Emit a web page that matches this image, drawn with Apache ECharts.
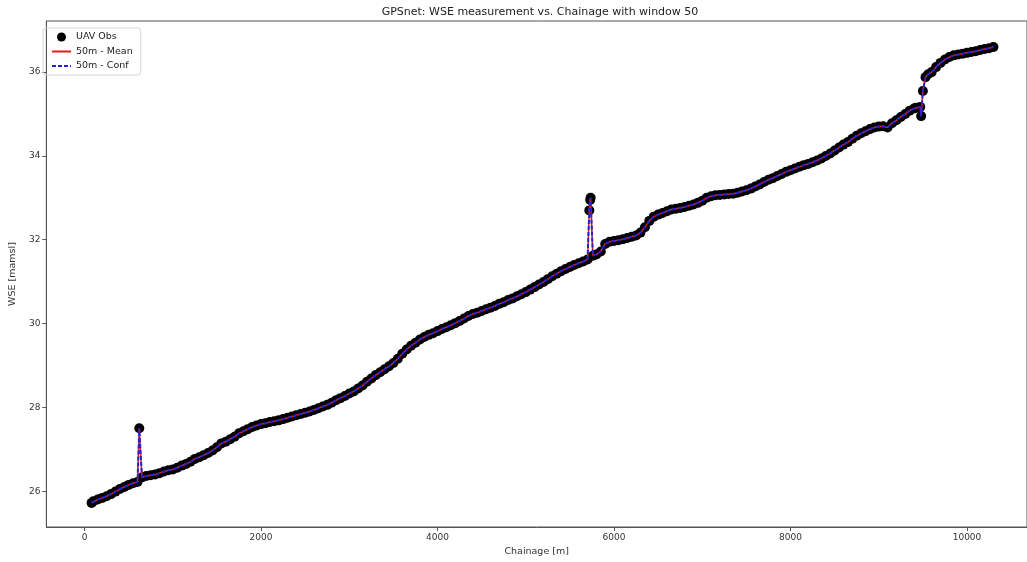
<!DOCTYPE html>
<html>
<head>
<meta charset="utf-8">
<script src="https://cdn.jsdelivr.net/npm/echarts@6/dist/echarts.min.js"></script>
<style>
  html, body { margin: 0; padding: 0; background: #fff; }
  #chart { width: 1027px; height: 562px; }
</style>
</head>
<body>
<div id="chart"></div>
<script>
var myChart = echarts.init(document.getElementById('chart'));

// chainage [m]
var chainage = [80, 100, 150, 200, 250, 300, 350, 400, 450, 500, 550, 600, 620, 650, 700, 750, 800, 850, 900, 950,
	1000, 1050, 1100, 1150, 1200, 1250, 1300, 1350, 1400, 1450, 1500, 1550, 1600, 1650, 1700, 1750, 1800, 1850, 1900, 1950,
	2000, 2050, 2100, 2150, 2200, 2250, 2300, 2350, 2400, 2450, 2500, 2550, 2600, 2650, 2700, 2750, 2800, 2850, 2900, 2950,
	3000, 3050, 3100, 3150, 3200, 3250, 3300, 3350, 3400, 3450, 3500, 3550, 3600, 3650, 3700, 3750, 3800, 3850, 3900, 3950,
	4000, 4050, 4100, 4150, 4200, 4250, 4300, 4350, 4400, 4450, 4500, 4550, 4600, 4650, 4700, 4750, 4800, 4850, 4900, 4950,
	5000, 5050, 5100, 5150, 5200, 5250, 5300, 5350, 5400, 5450, 5500, 5550, 5600, 5650, 5700, 5720, 5730, 5735, 5760, 5800,
	5850, 5900, 5950, 6000, 6050, 6100, 6150, 6200, 6250, 6300, 6350, 6400, 6450, 6500, 6550, 6600, 6650, 6700, 6750, 6800,
	6850, 6900, 6950, 7000, 7050, 7100, 7150, 7200, 7250, 7300, 7350, 7400, 7450, 7500, 7550, 7600, 7650, 7700, 7750, 7800,
	7850, 7900, 7950, 8000, 8050, 8100, 8150, 8200, 8250, 8300, 8350, 8400, 8450, 8500, 8550, 8600, 8650, 8700, 8750, 8800,
	8850, 8900, 8950, 9000, 9050, 9100, 9150, 9200, 9250, 9300, 9350, 9400, 9420, 9470, 9480, 9500, 9530, 9560, 9600, 9650,
	9700, 9750, 9800, 9850, 9900, 9950, 10000, 10050, 10100, 10150, 10200, 10250, 10300];
// WSE [mamsl]
var wse = [25.72, 25.76, 25.80, 25.84, 25.88, 25.93, 25.99, 26.05, 26.10, 26.15, 26.19, 26.22, 27.50, 26.33, 26.36, 26.38, 26.40, 26.43, 26.47, 26.50,
	26.52, 26.56, 26.61, 26.65, 26.70, 26.77, 26.81, 26.86, 26.91, 26.97, 27.05, 27.14, 27.18, 27.24, 27.30, 27.38, 27.43, 27.48, 27.53, 27.57,
	27.60, 27.62, 27.65, 27.67, 27.69, 27.72, 27.75, 27.78, 27.81, 27.84, 27.87, 27.90, 27.94, 27.98, 28.02, 28.06, 28.11, 28.17, 28.22, 28.27,
	28.33, 28.38, 28.45, 28.52, 28.61, 28.69, 28.77, 28.84, 28.91, 28.98, 29.06, 29.16, 29.28, 29.38, 29.47, 29.54, 29.62, 29.68, 29.73, 29.77,
	29.82, 29.87, 29.91, 29.96, 30.01, 30.06, 30.12, 30.18, 30.23, 30.26, 30.30, 30.34, 30.38, 30.42, 30.47, 30.51, 30.56, 30.60, 30.65, 30.70,
	30.75, 30.81, 30.87, 30.93, 30.99, 31.06, 31.13, 31.19, 31.25, 31.30, 31.35, 31.40, 31.44, 31.48, 31.53, 32.70, 32.95, 33.00, 31.62, 31.65,
	31.72, 31.90, 31.95, 31.97, 31.99, 32.01, 32.04, 32.07, 32.10, 32.17, 32.30, 32.45, 32.55, 32.60, 32.64, 32.68, 32.72, 32.74, 32.76, 32.78,
	32.81, 32.84, 32.88, 32.93, 33.00, 33.04, 33.06, 33.07, 33.08, 33.09, 33.10, 33.12, 33.15, 33.18, 33.22, 33.27, 33.32, 33.38, 33.43, 33.47,
	33.52, 33.57, 33.62, 33.66, 33.70, 33.74, 33.78, 33.81, 33.85, 33.89, 33.94, 34.00, 34.06, 34.13, 34.20, 34.27, 34.33, 34.41, 34.48, 34.54,
	34.59, 34.64, 34.68, 34.70, 34.71, 34.68, 34.78, 34.85, 34.93, 35.00, 35.08, 35.13, 35.15, 35.17, 34.95, 35.55, 35.88, 35.95, 36.00, 36.12,
	36.22, 36.30, 36.36, 36.40, 36.42, 36.44, 36.46, 36.48, 36.50, 36.53, 36.55, 36.57, 36.60];

var xTicks = [0, 2000, 4000, 6000, 8000, 10000];
var yTicks = [26, 28, 30, 32, 34, 36];

var obs = [];
for (var i = 0; i < chainage.length; i++) {
	obs.push([chainage[i], wse[i]]);
}

var font = 'DejaVu Sans';

myChart.setOption({
	animation: false,
	title: {
		text: 'GPSnet: WSE measurement vs. Chainage with window 50',
		left: 535,
		textAlign: 'center',
		top: 2,
		textStyle: { fontFamily: font, fontSize: 11, fontWeight: 'normal', color: '#222' }
	},
	legend: {
		orient: 'vertical',
		left: 43,
		top: 28,
		itemWidth: 19,
		itemHeight: 9,
		itemGap: 4.5,
		padding: [4, 8, 4, 8],
		borderColor: '#d5d5d5',
		borderWidth: 1,
		borderRadius: 3,
		textStyle: { fontFamily: font, fontSize: 9.5, color: '#222' },
		data: [
			{ name: 'UAV Obs', icon: 'circle' },
			{ name: '50m - Mean', itemStyle: { opacity: 0 } },
			{ name: '50m - Conf', itemStyle: { opacity: 0 } }
		]
	},
	grid: {
		left: 43,
		right: -1,
		top: 21,
		bottom: 32,
		show: true,
		borderColor: '#555',
		borderWidth: 1
	},
	xAxis: {
		type: 'value',
		min: -433,
		max: 10680,
		name: 'Chainage [m]',
		nameLocation: 'middle',
		nameGap: 20,
		nameTextStyle: { fontFamily: font, fontSize: 9.5, color: '#333' },
		axisLine: { show: true, onZero: false, lineStyle: { color: '#555' } },
		axisTick: { show: true, length: 4, customValues: xTicks, lineStyle: { color: '#555' } },
		axisLabel: {
			customValues: xTicks, fontFamily: font, fontSize: 9, color: '#333', margin: 6,
			formatter: function (v) { return String(v); }
		},
		splitLine: { show: false }
	},
	yAxis: {
		type: 'value',
		min: 25.145,
		max: 37.22,
		name: 'WSE [mamsl]',
		nameLocation: 'middle',
		nameGap: 26,
		nameTextStyle: { fontFamily: font, fontSize: 9.5, color: '#333' },
		axisLine: { show: true, onZero: false, lineStyle: { color: '#555' } },
		axisTick: { show: true, length: 4, customValues: yTicks, lineStyle: { color: '#555' } },
		axisLabel: {
			customValues: yTicks, fontFamily: font, fontSize: 9, color: '#333', margin: 6,
			formatter: function (v) { return String(v); }
		},
		splitLine: { show: false }
	},
	series: [
		{
			name: 'UAV Obs',
			type: 'scatter',
			data: obs,
			symbolSize: 10,
			itemStyle: { color: '#000', opacity: 1 },
			z: 2
		},
		{
			name: '50m - Mean',
			type: 'line',
			data: obs,
			showSymbol: false,
			symbol: 'none',
			lineStyle: { color: '#e41a1c', width: 1.5 },
			itemStyle: { color: '#e41a1c' },
			z: 3
		},
		{
			name: '50m - Conf',
			type: 'line',
			data: obs,
			showSymbol: false,
			symbol: 'none',
			lineStyle: { color: '#2323d6', width: 2, type: [4, 2] },
			itemStyle: { color: '#2323d6' },
			z: 4
		}
	]
});
</script>
</body>
</html>
